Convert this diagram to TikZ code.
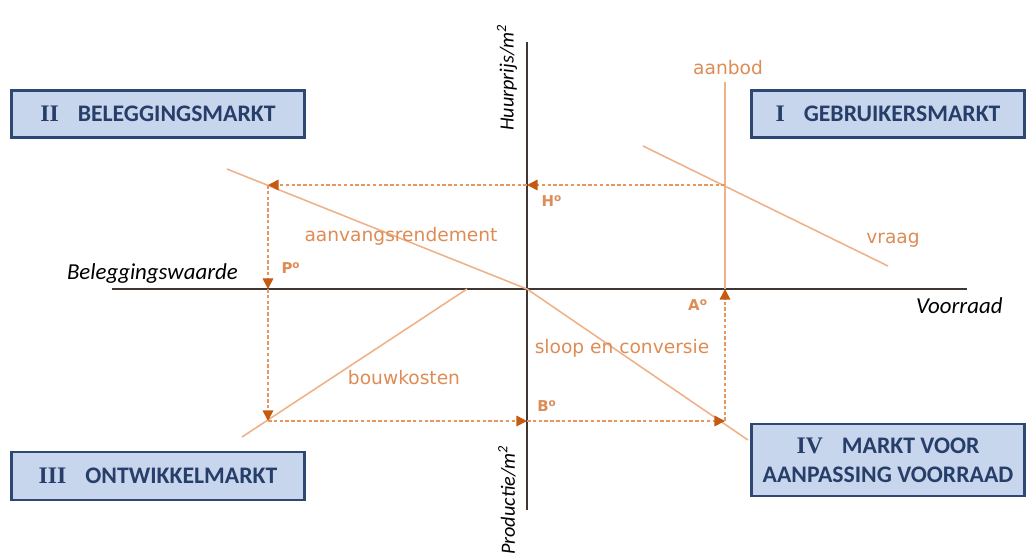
\documentclass[tikz,border=0pt]{standalone}
\usepackage{fontspec}
\setmainfont{Carlito}
\newfontfamily\romfont{Liberation Serif}
\newfontfamily\curvefont{DejaVu Sans}
\usetikzlibrary{arrows.meta}
\definecolor{navy}{RGB}{47,72,115}
\definecolor{boxfill}{RGB}{199,214,237}
\definecolor{boxtext}{RGB}{38,62,105}
\definecolor{curve}{RGB}{238,178,138}
\definecolor{curvetext}{RGB}{221,140,86}
\definecolor{guide}{RGB}{232,150,95}
\definecolor{tip}{RGB}{197,90,17}
\definecolor{axis}{RGB}{65,55,50}

\begin{document}
\begin{tikzpicture}[x=0.02cm,y=-0.02cm,
      market/.style={draw=navy, line width=1.5pt, fill=boxfill, text=boxtext,
      font=\bfseries\fontsize{13.5}{16.5}\selectfont, align=center, inner sep=0pt},
      ax/.style={draw=axis, line width=1.1pt},
      axlabel/.style={font=\itshape\fontsize{13}{15}\selectfont, text=black},
      curve/.style={draw=curve, line width=0.9pt},
      clabel/.style={font=\curvefont\fontsize{10.6}{12}\selectfont, text=curvetext},
      plabel/.style={font=\curvefont\bfseries\fontsize{8.5}{10}\selectfont, text=curvetext},
      guide/.style={draw=guide, line width=0.9pt, dash pattern=on 2pt off 1.3pt},
      >={Triangle[length=6pt,width=6pt,color=tip]}]
    \useasboundingbox (0,0) rectangle (1028,558);
    % markets
    \node[market, minimum width=5.86cm, minimum height=0.94cm] (beleg) at (158,114)
      {{\romfont II}\hspace{0.8em}BELEGGINGSMARKT};
    \node[market, minimum width=5.46cm, minimum height=0.94cm] (gebr) at (888,114)
      {{\romfont I}\hspace{0.8em}GEBRUIKERSMARKT};
    \node[market, minimum width=5.86cm, minimum height=0.96cm] (ontw) at (158,476)
      {{\romfont III}\hspace{0.8em}ONTWIKKELMARKT};
    \node[market, minimum width=5.46cm, minimum height=1.44cm] (aanp) at (888,460)
      {{\romfont IV}\hspace{0.8em}MARKT VOOR\\AANPASSING VOORRAAD};
    % axes
    \coordinate (O) at (527,289);
    \coordinate (yTop) at (527,42);
    \coordinate (yBot) at (527,510);
    \coordinate (xL) at (112,289);
    \coordinate (xR) at (967,289);
    \draw[ax] (xL) -- (xR);
    \draw[ax] (yTop) -- (yBot);
    \node[axlabel, font=\itshape\fontsize{11.5}{13}\selectfont, rotate=90, anchor=west,
      inner sep=1pt] (huur) at (507,133) {Huurprijs/m\textsuperscript{2}};
    \node[axlabel, font=\itshape\fontsize{11.5}{13}\selectfont, rotate=90, anchor=east,
      inner sep=1pt] (prod) at (507,443) {Productie/m\textsuperscript{2}};
    \node[axlabel, anchor=east] (waarde) at (244,274) {Beleggingswaarde};
    \node[axlabel, anchor=west] (voorraad) at (910,306) {Voorraad};
    % curves
    \coordinate (aanbodTop) at (725,82);
    \coordinate (vraagL) at (643,146);
    \coordinate (vraagR) at (888,266);
    \coordinate (rendL) at (227,169);
    \coordinate (sloopR) at (748,440);
    \coordinate (bouwR) at (467,289);
    \coordinate (bouwL) at (242,437);
    \draw[curve] (aanbodTop) -- (725,289);
    \draw[curve] (vraagL) -- (vraagR);
    \draw[curve] (rendL) -- (O) -- (sloopR);
    \draw[curve] (bouwR) -- (bouwL);
    \node[clabel] (aanbod) at (728,68) {aanbod};
    \node[clabel] (vraag) at (893,240) {vraag};
    \node[clabel] (rend) at (401,236) {aanvangsrendement};
    \node[clabel] (sloop) at (622,348) {sloop en conversie};
    \node[clabel] (bouw) at (404,378) {bouwkosten};
    % equilibrium path
    \coordinate (hA) at (725,185);
    \coordinate (hH) at (527,185);
    \coordinate (hP) at (268,185);
    \coordinate (pP) at (268,289);
    \coordinate (pB) at (268,421);
    \coordinate (bB) at (527,421);
    \coordinate (bA) at (725,421);
    \coordinate (aA) at (725,289);
    \draw[guide,->] (hA) -- (hH);
    \draw[guide,->] (hH) -- (hP);
    \draw[guide,->] (hP) -- (pP);
    \draw[guide,->] (pP) -- (pB);
    \draw[guide,->] (pB) -- (bB);
    \draw[guide,->] (bB) -- (bA);
    \draw[guide,->] (bA) -- (aA);
    \node[plabel] (lH) at (552,201) {H\textsuperscript{o}};
    \node[plabel] (lP) at (291,268) {P\textsuperscript{o}};
    \node[plabel] (lA) at (698,305) {A\textsuperscript{o}};
    \node[plabel] (lB) at (547,406) {B\textsuperscript{o}};
  \end{tikzpicture}
\end{document}
